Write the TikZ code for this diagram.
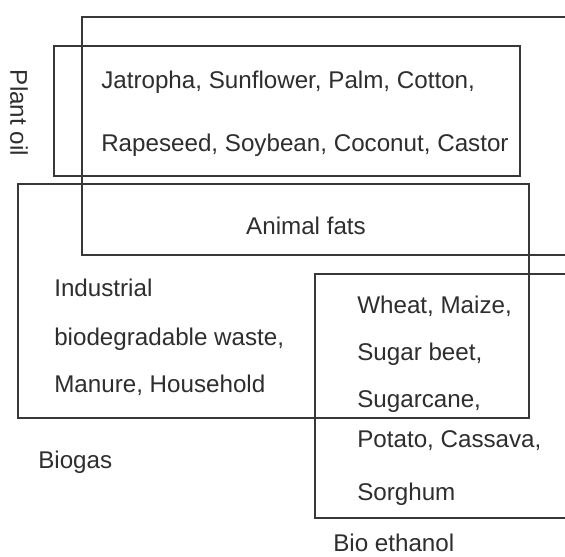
\documentclass[tikz,border=0pt]{standalone}
\usepackage{fontspec}
\setmainfont{Liberation Sans}
\usepackage{xcolor}
\definecolor{frameGray}{gray}{0.22}
\definecolor{labelGray}{gray}{0.18}

\begin{document}
\begin{tikzpicture}[
  box/.style={draw=frameGray, line width=1.4pt},
  lbl/.style={anchor=base west, inner sep=0pt, text=labelGray,
              font=\fontsize{17.2}{20}\selectfont}]
  \clip (0,0) rectangle (14.125,-13.925);
  \fill[white] (0,0) rectangle (14.125,-13.925);
  % ---- the four groups ----
  \draw[box] (2.05,-0.425) rectangle (14.6,-6.375);   % animal fats
  \draw[box] (1.35,-1.15) rectangle (13.0,-4.4);      % plant oil
  \draw[box] (0.45,-4.6) rectangle (13.225,-10.44);   % biogas
  \draw[box] (7.875,-6.85) rectangle (14.6,-12.95);   % bio ethanol
  % ---- plant oil ----
  \node[lbl, anchor=center, rotate=-90] (plantoil) at (0.475,-2.825) {Plant oil};
  \node[lbl] (oilA) at (2.525,-2.225) {Jatropha, Sunflower, Palm, Cotton,};
  \node[lbl] (oilB) at (2.525,-3.8) {Rapeseed, Soybean, Coconut, Castor};
  % ---- animal fats ----
  \node[lbl, anchor=base] (fats) at (7.65,-5.875) {Animal fats};
  % ---- biogas ----
  \foreach \yb/\txt [count=\i] in {-7.4/Industrial, -8.625/{biodegradable waste,},
                                   -9.8/{Manure, Household}}
    \node[lbl] (gas\i) at (1.35,\yb) {\txt};
  \node[lbl] (biogas) at (0.95,-11.7) {Biogas};
  % ---- bio ethanol ----
  \foreach \yb/\txt [count=\i] in {-7.825/{Wheat, Maize,}, -9.0/{Sugar beet,},
                                   -10.175/{Sugarcane,}, -11.175/{Potato, Cassava,},
                                   -12.5/Sorghum}
    \node[lbl] (eth\i) at (8.925,\yb) {\txt};
  \node[lbl] (bioethanol) at (8.325,-13.78) {Bio ethanol};
\end{tikzpicture}
\end{document}
